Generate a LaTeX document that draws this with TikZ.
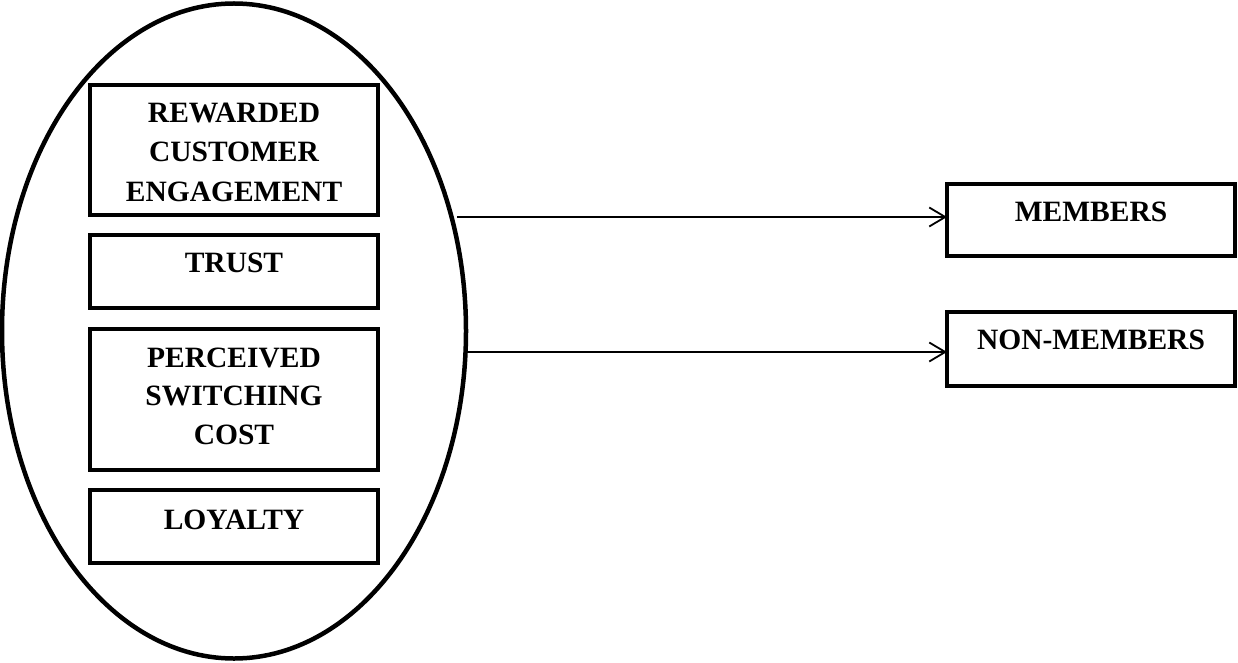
\documentclass[tikz,border=0pt]{standalone}
\usepackage{fontspec}
\setmainfont{Liberation Serif}
\usetikzlibrary{shapes.geometric,arrows.meta}
\begin{document}
\begin{tikzpicture}[x=1pt,y=-1pt,
  frame/.style={draw, line width=4.5pt, rectangle, inner sep=0pt, outer sep=0pt},
  label/.style={anchor=base, inner sep=0pt, font=\fontsize{29.5}{39}\selectfont\bfseries},
  link/.style={line width=1.8pt, -{Straight Barb[length=16pt,width=19pt,line width=1.8pt]}}]
\useasboundingbox (0,0) rectangle (1238,663);

% enclosing ellipse
\node[draw, ellipse, line width=4.5pt, inner sep=0pt, outer sep=0pt,
      minimum width=464pt, minimum height=655pt] (ell) at (234,331) {};

% factor boxes inside the ellipse
\node[frame, minimum width=288pt, minimum height=130pt] (rce) at (234,150) {};
\node[frame, minimum width=288pt, minimum height=73pt]  (tr)  at (234,271.5) {};
\node[frame, minimum width=288pt, minimum height=141pt] (psc) at (234,399.5) {};
\node[frame, minimum width=288pt, minimum height=73pt]  (loy) at (234,526.5) {};

\node[label] (t1a) at (234,123) {REWARDED};
\node[label] (t1b) at (234,162) {CUSTOMER};
\node[label] (t1c) at (234,201) {ENGAGEMENT};
\node[label] (t2)  at (234,272) {TRUST};
\node[label] (t3a) at (234,367) {PERCEIVED};
\node[label] (t3b) at (234,405.5) {SWITCHING};
\node[label] (t3c) at (234,444) {COST};
\node[label] (t4)  at (234,529) {LOYALTY};

% outcome boxes
\node[frame, minimum width=288pt, minimum height=72pt] (mem) at (1091,220) {};
\node[frame, minimum width=288pt, minimum height=74pt] (non) at (1091,349) {};
\node[label] (tm) at (1091,221) {MEMBERS};
\node[label] (tn) at (1091,349) {NON-MEMBERS};

% connectors from the ellipse edge
\coordinate (s1) at (457,217);
\coordinate (s2) at (468,352);
\draw[link] (s1) -- (s1 -| mem.west);
\draw[link] (s2) -- (s2 -| non.west);
\end{tikzpicture}
\end{document}
